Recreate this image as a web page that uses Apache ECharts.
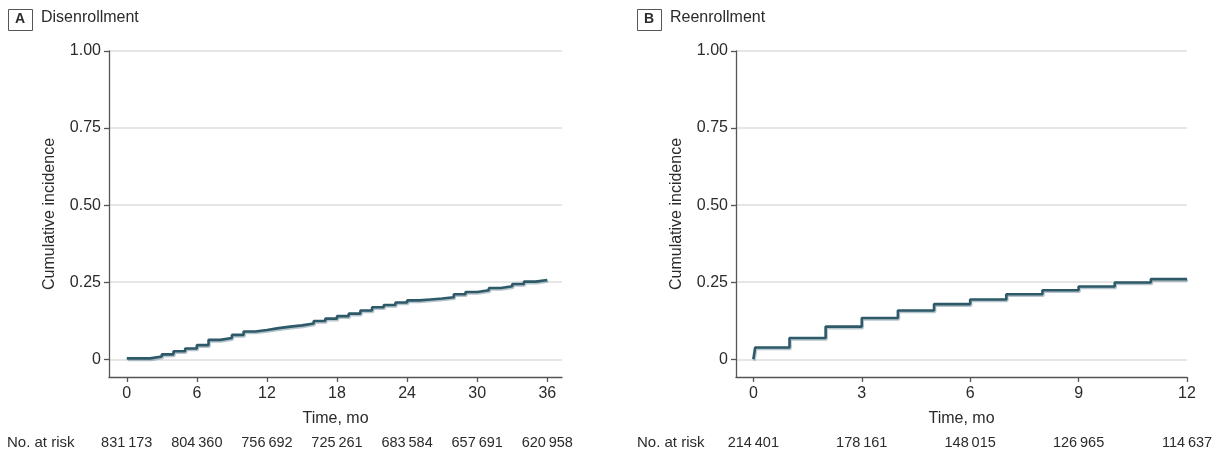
<!DOCTYPE html>
<html lang="en" style="height: 100%">
<head>
  <meta charset="utf-8">
</head>
<body style="height: 100%; margin: 0; background: #fff">
  <div id="container" style="width: 1222px; height: 463px"></div>

  <script type="text/javascript" src="https://fastly.jsdelivr.net/npm/echarts@6/dist/echarts.min.js"></script>
  <script type="text/javascript">
// panel A: disenrollment
var timesA = [0, 2, 3, 4, 5, 6, 7, 8, 9, 10, 11, 12, 13, 14, 15, 16, 17, 18, 19, 20,
  21, 22, 23, 24, 25, 26, 27, 28, 29, 30, 31, 32, 33, 34, 35, 36];
var incA = [0.003, 0.009, 0.016, 0.026, 0.035, 0.046, 0.063, 0.069, 0.079, 0.090,
  0.095, 0.101, 0.106, 0.110, 0.116, 0.124, 0.132, 0.140, 0.148, 0.158, 0.169,
  0.176, 0.184, 0.191, 0.194, 0.197, 0.201, 0.211, 0.218, 0.224, 0.231, 0.237,
  0.244, 0.252, 0.257, 0.257];
var xTicksA = [0, 6, 12, 18, 24, 30, 36];
var atRiskA = [831173, 804360, 756692, 725261, 683584, 657691, 620958];

// panel B: reenrollment
var timesB = [0, 0.05, 1, 2, 3, 4, 5, 6, 7, 8, 9, 10, 11, 12];
var incB = [0, 0.038, 0.069, 0.106, 0.134, 0.158, 0.179, 0.194, 0.211, 0.224,
  0.236, 0.249, 0.260, 0.260];
var xTicksB = [0, 3, 6, 9, 12];
var atRiskB = [214401, 178161, 148015, 126965, 114637];

var yTicks = [0, 0.25, 0.5, 0.75, 1];

var FONT = "'Liberation Sans', Arial, sans-serif";
var TXT = '#2b2b2b';
var AXIS = '#555';
var LINE = '#2e5968';

function thin(n) {
  return String(n).replace(/\B(?=(\d{3})+(?!\d))/g, '\u2009');
}

var dom = document.getElementById('container');
var myChart = echarts.init(dom, null, { renderer: 'canvas' });

function xAxisMain(grid, min, max, ticks) {
  return {
    type: 'value', gridIndex: grid, min: min, max: max,
    name: 'Time, mo', nameLocation: 'middle', nameGap: 34,
    nameTextStyle: { fontFamily: FONT, fontSize: 16, color: TXT },
    axisLine: { onZero: false, lineStyle: { color: AXIS, width: 1.3 } },
    axisTick: { customValues: ticks, length: 5, lineStyle: { color: AXIS, width: 1.3 } },
    axisLabel: { customValues: ticks, margin: 9, fontFamily: FONT, fontSize: 16, color: TXT },
    splitLine: { show: false }
  };
}
function xAxisRisk(grid, min, max, ticks, counts) {
  return {
    type: 'value', gridIndex: grid, min: min, max: max, position: 'bottom', offset: 58,
    axisLine: { show: false, onZero: false }, axisTick: { show: false }, splitLine: { show: false },
    axisLabel: {
      customValues: ticks, margin: 0, fontFamily: FONT, fontSize: 14.5, color: TXT,
      formatter: function (v) { return thin(counts[ticks.indexOf(v)]); }
    }
  };
}
function yAxisMain(grid) {
  return {
    type: 'value', gridIndex: grid, min: -0.0575, max: 1,
    name: 'Cumulative incidence', nameLocation: 'middle', nameGap: 51,
    nameTextStyle: { fontFamily: FONT, fontSize: 16, color: TXT },
    axisLine: { show: true, onZero: false, lineStyle: { color: AXIS, width: 1.3 } },
    axisTick: { show: true, customValues: yTicks, length: 5, lineStyle: { color: AXIS, width: 1.3 } },
    axisLabel: {
      customValues: yTicks, margin: 8, fontFamily: FONT, fontSize: 16, color: TXT,
      formatter: function (v) { return v === 0 ? '0' : v.toFixed(2); }
    },
    splitLine: { show: true, lineStyle: { color: '#dedede', width: 1.5 } }
  };
}
function curve(xi, yi, times, inc) {
  return {
    type: 'line', xAxisIndex: xi, yAxisIndex: yi, step: 'end', symbol: 'none',
    data: times.map(function (t, i) { return [t, inc[i]]; }),
    lineStyle: {
      color: LINE, width: 2.6,
      shadowColor: 'rgba(120,150,160,0.55)', shadowOffsetX: 1, shadowOffsetY: 1.5, shadowBlur: 0
    },
    z: 3
  };
}
function panelTitle(x, letter, label) {
  return [
    { type: 'rect', left: x, top: 9, shape: { width: 24, height: 21 },
      style: { fill: '#fff', stroke: AXIS, lineWidth: 1 } },
    { type: 'text', left: x + 7, top: 12, style: { text: letter, fontFamily: FONT, fontWeight: 'bold', fontSize: 14, fill: TXT } },
    { type: 'text', left: x + 33, top: 10, style: { text: label, fontFamily: FONT, fontSize: 16, fill: TXT } }
  ];
}

var option = {
  animation: false,
  grid: [
    { left: 109, top: 51, width: 453, height: 326 },
    { left: 736, top: 51, width: 451, height: 326 }
  ],
  xAxis: [
    xAxisMain(0, -1.52, 37.26, xTicksA),
    xAxisMain(1, -0.48, 12, xTicksB),
    xAxisRisk(0, -1.52, 37.26, xTicksA, atRiskA),
    xAxisRisk(1, -0.48, 12, xTicksB, atRiskB)
  ],
  yAxis: [yAxisMain(0), yAxisMain(1)],
  series: [curve(0, 0, timesA, incA), curve(1, 1, timesB, incB)],
  graphic: panelTitle(8, 'A', 'Disenrollment')
    .concat(panelTitle(637, 'B', 'Reenrollment'))
    .concat([
      { type: 'text', left: 7, top: 435, style: { text: 'No. at risk', fontFamily: FONT, fontSize: 15, fill: TXT } },
      { type: 'text', left: 637, top: 435, style: { text: 'No. at risk', fontFamily: FONT, fontSize: 15, fill: TXT } }
    ])
};

myChart.setOption(option);
window.addEventListener('resize', myChart.resize);
  </script>
</body>
</html>
